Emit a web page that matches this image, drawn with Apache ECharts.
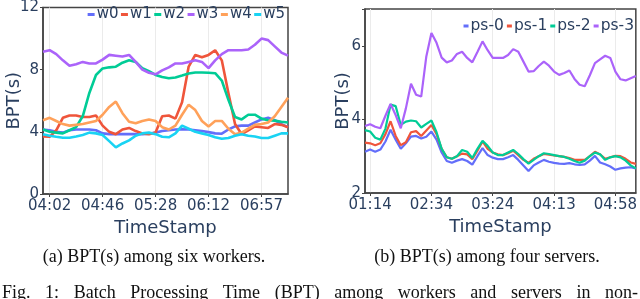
<!DOCTYPE html>
<html><head><meta charset="utf-8">
<script src="https://cdn.jsdelivr.net/npm/echarts@6/dist/echarts.min.js"></script>
<style>html,body{margin:0;padding:0;background:#fff}#c{width:640px;height:299px}</style>
</head><body><div id="c"></div>
<script>
// ---- data: (a) six workers ----
const catsA = ["03:57","04:02","04:08","04:13","04:19","04:24","04:30","04:35","04:41","04:46","04:51","04:57","05:02","05:07","05:12","05:18","05:23","05:28","05:34","05:39","05:45","05:50","05:56","06:01","06:07","06:12","06:18","06:23","06:29","06:34","06:40","06:46","06:51","06:57","07:02","07:08","07:13","07:19"];
const w0 = [4.15,4.1,4.0,3.95,4.1,4.15,4.15,4.15,4.1,3.9,3.85,3.85,3.85,3.85,3.85,3.85,3.88,3.95,4.05,4.1,4.15,4.17,4.15,4.1,4.05,3.98,3.9,3.88,4.15,4.35,4.4,4.4,4.6,4.8,4.9,4.75,4.5,4.3];
const w1 = [3.7,3.68,4.1,4.9,5.05,5.05,4.95,4.95,5.05,4.4,4.0,3.85,4.15,4.25,4.05,3.9,3.85,3.95,5.0,5.05,4.85,5.9,8.2,8.95,8.8,8.95,9.25,8.6,6.5,4.5,3.85,4.1,4.35,4.3,4.25,4.5,4.45,4.3];
const w2 = [4.15,4.0,3.95,3.9,4.1,4.3,5.0,6.5,7.66,8.08,8.15,8.19,8.45,8.6,8.5,8.1,7.9,7.66,7.53,7.45,7.5,7.62,7.75,7.82,7.82,7.8,7.77,7.3,6.06,4.95,4.8,5.1,5.1,4.85,4.75,4.72,4.65,4.6];
const w3 = [9.15,9.25,9.0,8.6,8.25,8.35,8.5,8.4,8.4,8.65,8.95,8.9,8.85,8.95,8.5,8.0,7.8,7.7,7.95,8.15,8.4,8.4,8.5,8.6,8.5,8.1,8.6,9.0,9.25,9.25,9.25,9.3,9.6,10.0,9.9,9.5,9.1,8.9];
const w4 = [4.75,4.9,4.7,4.5,4.4,4.45,4.5,4.6,4.7,5.1,5.6,5.95,5.2,4.65,4.55,4.7,4.8,4.7,4.3,4.15,4.4,5.1,5.75,5.4,4.7,4.35,4.7,4.7,4.2,3.85,3.95,4.2,4.45,4.5,4.6,5.0,5.6,6.2];
const w5 = [3.85,3.75,3.68,3.62,3.62,3.7,3.8,3.95,3.9,3.8,3.4,3.0,3.25,3.45,3.75,3.9,3.95,3.85,3.68,3.65,3.9,4.4,4.2,4.0,3.9,3.8,3.65,3.55,3.6,3.75,3.85,3.75,3.7,3.6,3.6,3.75,3.9,3.9];
const namesA = ["w0","w1","w2","w3","w4","w5"];
const yTicksA = [0,4,8,12];

// ---- data: (b) four servers ----
const catsB = ["01:07","01:14","01:21","01:27","01:34","01:41","01:47","01:54","02:01","02:07","02:14","02:21","02:27","02:34","02:38","02:42","02:46","02:51","02:55","02:59","03:03","03:07","03:11","03:15","03:20","03:24","03:28","03:32","03:36","03:40","03:44","03:48","03:52","03:56","04:00","04:05","04:09","04:13","04:17","04:21","04:24","04:28","04:32","04:35","04:39","04:43","04:47","04:50","04:54","04:58","05:02","05:05","05:09","05:13"];
const ps0 = [3.12,3.18,3.12,3.18,3.4,3.72,3.45,3.2,3.35,3.53,3.55,3.48,3.53,3.67,3.45,3.1,2.87,2.82,2.88,2.92,2.87,2.77,3.0,3.22,3.03,2.96,2.92,2.92,2.97,3.03,2.9,2.75,2.6,2.75,2.83,2.9,2.85,2.82,2.8,2.79,2.81,2.78,2.76,2.78,2.88,3.01,2.83,2.78,2.72,2.63,2.67,2.69,2.7,2.67];
const ps1 = [3.37,3.35,3.3,3.35,3.6,3.95,3.55,3.3,3.38,3.65,3.68,3.55,3.7,3.85,3.6,3.2,2.97,2.93,3.0,3.07,3.05,2.92,3.15,3.4,3.2,3.1,3.05,3.03,3.08,3.15,3.03,2.9,2.82,2.93,3.0,3.06,3.04,3.02,3.0,2.98,2.95,2.9,2.9,2.9,3.0,3.12,3.05,2.93,2.97,3.01,3.0,2.93,2.83,2.79];
const ps2 = [3.71,3.67,3.5,3.45,3.75,4.4,4.36,3.85,3.94,3.97,3.95,3.78,3.88,3.97,3.65,3.2,2.97,2.93,3.0,3.17,3.12,2.95,3.2,3.42,3.28,3.1,3.03,3.03,3.1,3.17,3.06,2.92,2.8,2.9,3.0,3.08,3.06,3.03,3.0,2.98,2.93,2.87,2.82,2.88,3.0,3.1,3.05,2.9,2.97,3.0,2.97,2.88,2.75,2.67];
const ps3 = [3.82,3.87,3.8,3.76,4.1,4.42,4.12,3.76,4.3,4.97,4.67,4.62,5.71,6.35,6.08,5.68,5.55,5.6,5.78,5.84,5.67,5.55,5.83,6.12,5.88,5.67,5.67,5.67,5.75,5.91,5.84,5.57,5.3,5.31,5.45,5.57,5.46,5.3,5.21,5.26,5.33,5.1,4.94,4.9,5.2,5.53,5.63,5.73,5.67,5.3,5.09,5.06,5.12,5.18];
const namesB = ["ps-0","ps-1","ps-2","ps-3"];
const yTicksB = [2,4,6];

const captionA = "(a) BPT(s) among six workers.";
const captionB = "(b) BPT(s) among four servers.";
const figLine = "Fig. 1: Batch Processing Time (BPT) among workers and servers in non-";

// ---- styling ----
const PAL = ["#636efa","#EF553B","#00cc96","#ab63fa","#FFA15A","#19d3f3"];
const TXT = "#2a3f5f";
const FONT = "DejaVu Sans";
const SERIF = "Liberation Serif";

const chart = echarts.init(document.getElementById('c'), null, {renderer:'canvas'});

function xAxis(gi, cats, step){
  const show = (i) => (i - 1) % step === 0;
  return {
    type:'category', gridIndex:gi, data:cats, boundaryGap:false,
    name:'TimeStamp', nameLocation:'middle', nameGap:24,
    nameTextStyle:{fontFamily:FONT, fontSize:18, color:TXT},
    axisLine:{lineStyle:{color:'#444', width:1.5}},
    axisTick:{show:true, interval:show, length:3, lineStyle:{color:'#444'}},
    axisLabel:{interval:show, fontFamily:FONT, fontSize:15, color:TXT, margin:5},
    splitLine:{show:true, interval:show, lineStyle:{color:'#ebebeb', width:1}}
  };
}
function yAxis(gi, ticks, gap){
  const mn = ticks[0], mx = gi===0 ? 12 : 7;
  return {
    type:'value', gridIndex:gi, min:mn, max:mx, interval:ticks[1]-ticks[0],
    name:'BPT(s)', nameLocation:'middle', nameGap:gap, nameRotate:90, nameMoveOverlap:false,
    nameTextStyle:{fontFamily:FONT, fontSize:18, color:TXT},
    axisLine:{show:true, lineStyle:{color:'#444', width:1.5}},
    axisTick:{show:true, length:3, lineStyle:{color:'#444'}},
    axisLabel:{fontFamily:FONT, fontSize:15, color:TXT, margin:4,
      formatter:(v)=> ticks.indexOf(v) >= 0 ? String(v) : ''},
    splitLine:{show:false}
  };
}

const dataA = [w0,w1,w2,w3,w4,w5];
const dataB = [ps0,ps1,ps2,ps3];
const series = [];
dataA.forEach((d,k)=>series.push({name:namesA[k], type:'line', xAxisIndex:0, yAxisIndex:0, data:d,
  symbol:'none', showSymbol:false, lineStyle:{width:2.6, color:PAL[k]}, itemStyle:{color:PAL[k]}}));
dataB.forEach((d,k)=>series.push({name:namesB[k], type:'line', xAxisIndex:1, yAxisIndex:1, data:d,
  symbol:'none', showSymbol:false, lineStyle:{width:2.2, color:PAL[k]}, itemStyle:{color:PAL[k]}}));

// caption graphics
const graphics = [
  {type:'text', x:154, y:257, style:{text:captionA, fontFamily:SERIF, fontSize:18, fill:'#111', align:'center', verticalAlign:'middle'}},
  {type:'text', x:487, y:257, style:{text:captionB, fontFamily:SERIF, fontSize:18, fill:'#111', align:'center', verticalAlign:'middle'}}
];
// justified figure line
(function(){
  const words = figLine.split(' ');
  const cv = document.createElement('canvas').getContext('2d');
  cv.font = '18px "' + SERIF + '"';
  const widths = words.map(w=>cv.measureText(w).width);
  const L = 2, R = 638;
  const total = widths.reduce((a,b)=>a+b,0);
  const gap = (R - L - total) / (words.length - 1);
  let x = L;
  words.forEach((w,i)=>{
    graphics.push({type:'text', x:x, y:293, style:{text:w, fontFamily:SERIF, fontSize:18, fill:'#111', align:'left', verticalAlign:'middle'}});
    x += widths[i] + gap;
  });
})();

chart.setOption({
  animation:false,
  backgroundColor:'#fff',
  textStyle:{fontFamily:FONT},
  grid:[
    {left:43, top:5, width:245, height:189, show:true, borderColor:'#444', borderWidth:1.5, backgroundColor:'transparent'},
    {left:365, top:9, width:271, height:184, show:true, borderColor:'#444', borderWidth:1.5, backgroundColor:'transparent'}
  ],
  xAxis:[xAxis(0, catsA, 8), xAxis(1, catsB, 12)],
  yAxis:[yAxis(0, yTicksA, 20), yAxis(1, yTicksB, 13)],
  legend:[
    {data:namesA, right:355, top:7, orient:'horizontal', icon:'rect', itemWidth:7, itemHeight:3, itemGap:2.5,
     textStyle:{fontFamily:FONT, fontSize:15, color:TXT, padding:[0,0,0,-3]}, padding:0},
    {data:namesB, right:6, top:18, orient:'horizontal', icon:'rect', itemWidth:5, itemHeight:3, itemGap:3,
     textStyle:{fontFamily:FONT, fontSize:15.5, color:TXT, padding:[0,0,0,-3]}, padding:0}
  ],
  graphic:graphics,
  series:series
});
</script></body></html>
